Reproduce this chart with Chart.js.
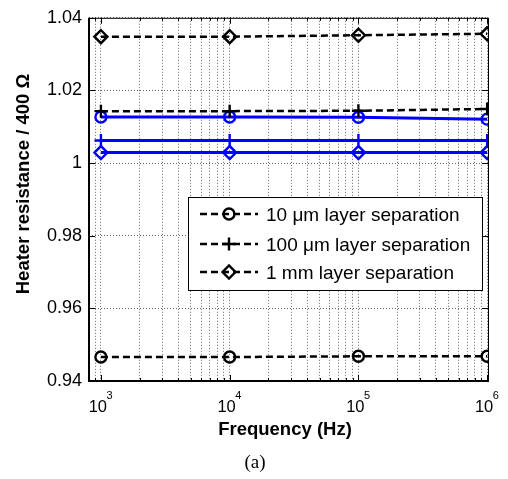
<!DOCTYPE html>
<html>
<head>
<meta charset="utf-8">
<script src="https://cdn.jsdelivr.net/npm/chart.js@4/dist/chart.umd.min.js"></script>
<style>
  html, body { margin: 0; padding: 0; background: #fff; }
</style>
</head>
<body>
<canvas id="chart" width="508" height="479"></canvas>
<script>
// Data
const freqs = [1e3, 1e4, 1e5, 1e6];
const sep10um = [0.9466, 0.9466, 0.9468, 0.9468];
const sep100um = [1.0143, 1.0143, 1.0144, 1.0149];
const sep1mm = [1.0348, 1.0348, 1.0352, 1.0356];
const sep10umBlue = [1.0127, 1.0127, 1.0126, 1.0121];
const sep100umBlue = [1.0062, 1.0062, 1.0062, 1.0062];
const sep1mmBlue = [1.0029, 1.0029, 1.0029, 1.0029];

const legendNames = ['10 \u03bcm layer separation', '100 \u03bcm layer separation', '1 mm layer separation'];
const decades = [1e3, 1e4, 1e5, 1e6];
const decadeExp = ['3', '4', '5', '6'];
const yTicks = [0.94, 0.96, 0.98, 1.00, 1.02, 1.04];

const xMin = 808, xMax = 1.015e6;
const FONT = '"Liberation Sans", Arial, Helvetica, sans-serif';

// grid positions for log axis (1..9 per decade)
const xGrid = [];
[1e2, 1e3, 1e4, 1e5].forEach(d => {
    for (let m = 1; m < 10; m++) {
        const v = m * d;
        if (v >= xMin && v <= xMax) xGrid.push(v);
    }
});
xGrid.push(1e6);

function series(values, color, style, dashed) {
    return {
        data: freqs.map((f, i) => ({ x: f, y: values[i] })),
        borderColor: color,
        borderWidth: dashed ? 2.5 : 3,
        borderDash: dashed ? [7, 4] : [],
        pointStyle: style,
        pointRadius: style === 'circle' ? 5.5 : 6.5,
        pointBorderWidth: 2.4,
        pointBorderColor: color,
        pointBackgroundColor: 'rgba(0,0,0,0)',
        fill: false,
        tension: 0
    };
}

// inward ticks, box, x tick labels, titles
const decorPlugin = {
    id: 'decor',
    afterDraw(chart) {
        const ctx = chart.ctx;
        const { left, right, top, bottom } = chart.chartArea;
        const xs = chart.scales.x, ys = chart.scales.y;
        ctx.save();
        ctx.strokeStyle = '#000';
        ctx.lineWidth = 1;
        ctx.setLineDash([]);
        ctx.beginPath();
        xGrid.forEach(v => {
            const px = Math.round(xs.getPixelForValue(v)) + 0.5;
            const len = decades.includes(v) ? 6 : 3;
            ctx.moveTo(px, bottom); ctx.lineTo(px, bottom - len);
            ctx.moveTo(px, top); ctx.lineTo(px, top + len);
        });
        yTicks.forEach(v => {
            const py = Math.round(ys.getPixelForValue(v)) + 0.5;
            ctx.moveTo(left, py); ctx.lineTo(left + 6, py);
            ctx.moveTo(right, py); ctx.lineTo(right - 6, py);
        });
        ctx.stroke();
        ctx.strokeRect(left + 0.5, top + 0.5, right - left, bottom - top);
        ctx.lineWidth = 2;
        ctx.beginPath();
        ctx.moveTo(left, top); ctx.lineTo(left, bottom); ctx.lineTo(right, bottom);
        ctx.stroke();

        // x tick labels 10^n
        ctx.fillStyle = '#000';
        ctx.textBaseline = 'alphabetic';
        ctx.textAlign = 'left';
        decades.forEach((d, i) => {
            const px = xs.getPixelForValue(d);
            ctx.font = '16.5px ' + FONT;
            const w1 = ctx.measureText('10').width;
            ctx.font = '11px ' + FONT;
            const w2 = ctx.measureText(decadeExp[i]).width;
            const start = px - (w1 + w2) / 2;
            ctx.font = '16.5px ' + FONT;
            ctx.fillText('10', start, 412);
            ctx.font = '11px ' + FONT;
            ctx.fillText(decadeExp[i], start + w1 - 0.5, 399);
        });

        // axis titles
        ctx.textAlign = 'center';
        ctx.textBaseline = 'middle';
        ctx.font = 'bold 18.5px ' + FONT;
        ctx.fillText('Frequency (Hz)', 285, 430);
        ctx.save();
        ctx.translate(24, 184);
        ctx.rotate(-Math.PI / 2);
        ctx.fillText('Heater resistance / 400 \u03a9', 0, 0);
        ctx.restore();
        ctx.font = '19px "Liberation Serif", "Times New Roman", serif';
        ctx.fillText('(a)', 255, 463);
        ctx.restore();
    }
};

// boxed legend inside the plot, only the dashed series
const legendPlugin = {
    id: 'boxLegend',
    afterDatasetsDraw(chart) {
        const ctx = chart.ctx;
        const bx = 188, by = 197, bw = 294, bh = 93;
        const rows = [214, 244, 272];
        ctx.save();
        ctx.fillStyle = '#fff';
        ctx.fillRect(bx, by, bw, bh);
        ctx.strokeStyle = '#000';
        ctx.lineWidth = 1;
        ctx.setLineDash([]);
        ctx.strokeRect(bx + 0.5, by + 0.5, bw, bh);
        legendNames.forEach((name, i) => {
            const ds = chart.data.datasets[i];
            const y = rows[i];
            ctx.strokeStyle = ds.borderColor;
            ctx.lineWidth = ds.borderWidth;
            ctx.setLineDash(ds.borderDash);
            ctx.beginPath();
            ctx.moveTo(200, y); ctx.lineTo(258, y);
            ctx.stroke();
            ctx.setLineDash([]);
            ctx.lineWidth = ds.pointBorderWidth;
            ctx.fillStyle = 'rgba(0,0,0,0)';
            Chart.helpers.drawPoint(ctx, {
                pointStyle: ds.pointStyle,
                radius: ds.pointRadius,
                rotation: 0,
                borderWidth: ds.pointBorderWidth
            }, 229, y);
            ctx.fillStyle = '#000';
            ctx.font = '19px ' + FONT;
            ctx.textAlign = 'left';
            ctx.textBaseline = 'middle';
            ctx.fillText(name, 266, y + 2);
        });
        ctx.restore();
    }
};

const ctx = document.getElementById('chart').getContext('2d');
new Chart(ctx, {
    type: 'line',
    data: {
        datasets: [
            series(sep10um, '#000', 'circle', true),
            series(sep100um, '#000', 'cross', true),
            series(sep1mm, '#000', 'rectRot', true),
            series(sep10umBlue, '#0000ff', 'circle', false),
            series(sep100umBlue, '#0000ff', 'cross', false),
            series(sep1mmBlue, '#0000ff', 'rectRot', false)
        ]
    },
    options: {
        responsive: false,
        animation: false,
        layout: { padding: { top: 13, right: 20, bottom: 0, left: 0 } },
        plugins: {
            legend: { display: false },
            tooltip: { enabled: false }
        },
        scales: {
            x: {
                type: 'logarithmic',
                min: xMin,
                max: xMax,
                afterBuildTicks: scale => {
                    scale.ticks = xGrid.map(v => ({ value: v, major: decades.includes(v) }));
                },
                afterFit: scale => { scale.height = 98; },
                ticks: { display: false },
                grid: { color: 'rgba(0,0,0,0.6)', lineWidth: 1, drawTicks: false },
                border: { display: false, dash: [1, 2] }
            },
            y: {
                type: 'linear',
                min: 0.94,
                max: 1.04,
                afterBuildTicks: scale => {
                    scale.ticks = yTicks.map(v => ({ value: v }));
                },
                afterFit: scale => { scale.width = 89; },
                ticks: {
                    color: '#000',
                    padding: 7,
                    font: { family: FONT, size: 18 },
                    callback: v => String(parseFloat(Number(v).toFixed(2)))
                },
                grid: { color: 'rgba(0,0,0,0.6)', lineWidth: 1, drawTicks: false },
                border: { display: false, dash: [1, 2] }
            }
        }
    },
    plugins: [legendPlugin, decorPlugin]
});
</script>
</body>
</html>
